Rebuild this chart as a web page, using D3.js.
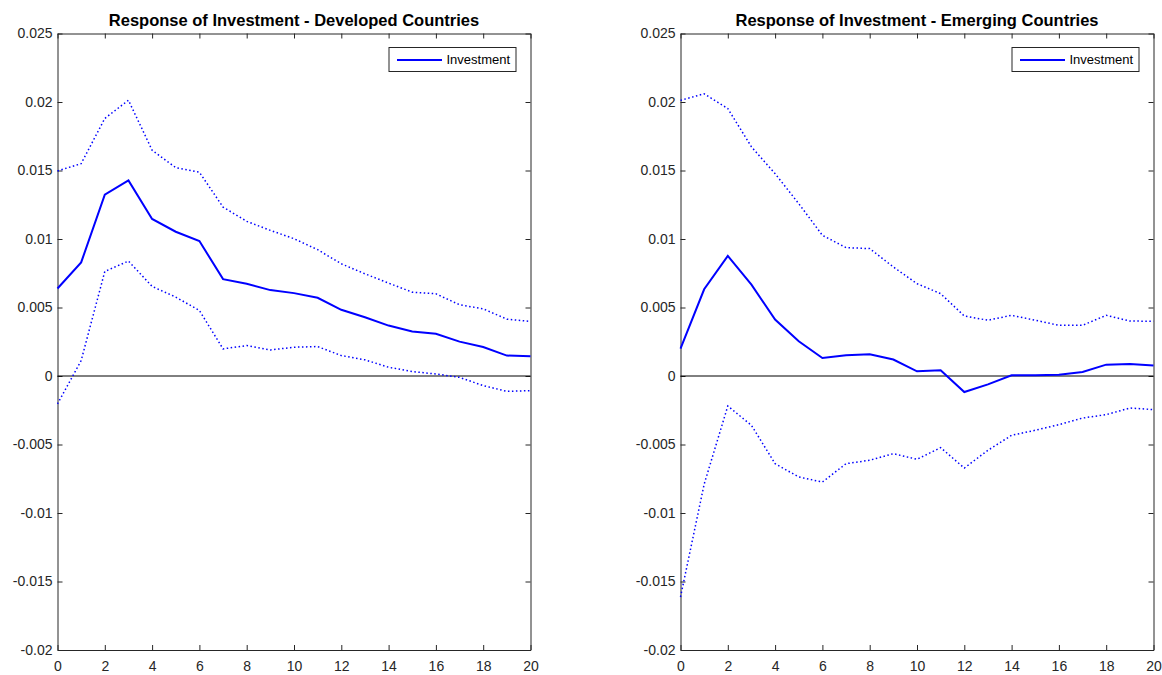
<!DOCTYPE html>
<html>
<head>
<meta charset="utf-8">
<script src="https://cdn.jsdelivr.net/npm/d3@7"></script>
<style>
  body { margin: 0; background: #fff; }
  svg { font-family: "Liberation Sans", Arial, Helvetica, sans-serif; }
  .axis path, .axis line { stroke: #262626; }
  .axis text { fill: #262626; font-size: 14px; }
</style>
</head>
<body>
<div id="chart"></div>
<script>
// horizon (quarters after shock)
const horizon = [0, 1, 2, 3, 4, 5, 6, 7, 8, 9, 10, 11, 12, 13, 14, 15, 16, 17, 18, 19, 20]
const xTicks = [0, 2, 4, 6, 8, 10, 12, 14, 16, 18, 20]
const yTicks = [-0.02, -0.015, -0.01, -0.005, 0, 0.005, 0.01, 0.015, 0.02, 0.025]

// developed countries
const devIrf = [0.00639, 0.00829, 0.01324, 0.01428, 0.01146, 0.01053, 0.00985, 0.00707, 0.00673, 0.00627, 0.00605,
  0.00571, 0.00483, 0.00429, 0.00368, 0.00325, 0.00308, 0.00251, 0.00212, 0.00149, 0.00144]
const devUpper = [0.01497, 0.0155, 0.0188, 0.02013, 0.01648, 0.01521, 0.01487, 0.01233, 0.01129, 0.01063, 0.01002,
  0.00922, 0.00819, 0.00746, 0.00678, 0.00612, 0.006, 0.0052, 0.0049, 0.00415, 0.00398]
const devLower = [-0.00204, 0.00113, 0.00763, 0.00839, 0.00654, 0.00576, 0.00478, 0.00198, 0.00222, 0.0019, 0.0021,
  0.00215, 0.00149, 0.00118, 0.00064, 0.00032, 0.00015, -0.0001, -0.0007, -0.00112, -0.00107]

// emerging countries
const emIrf = [0.002, 0.00633, 0.00876, 0.00667, 0.00412, 0.00253, 0.00131, 0.00151, 0.00158, 0.0012, 0.00034,
  0.00042, -0.00117, -0.00061, 0.00005, 0.00005, 0.0001, 0.00029, 0.00083, 0.00088, 0.00076]
const emUpper = [0.02012, 0.0206, 0.01952, 0.01673, 0.01477, 0.01258, 0.01027, 0.00937, 0.0093, 0.00796, 0.00674,
  0.00601, 0.00438, 0.00407, 0.00443, 0.00407, 0.0037, 0.0037, 0.00443, 0.00401, 0.004]
const emLower = [-0.01613, -0.0079, -0.00219, -0.0036, -0.0064, -0.00737, -0.00774, -0.0064, -0.00615, -0.00567, -0.00608,
  -0.00523, -0.00672, -0.00542, -0.00433, -0.00396, -0.00355, -0.00307, -0.00282, -0.00234, -0.00245]

const titles = ['Response of Investment - Developed Countries', 'Response of Investment - Emerging Countries']
const legendLabel = 'Investment'

const W = 1162, H = 675
const svg = d3.select('#chart').append('svg')
  .attr('width', W)
  .attr('height', H)

const panels = [
  { left: 57.5, title: titles[0], irf: devIrf, upper: devUpper, lower: devLower },
  { left: 680.5, title: titles[1], irf: emIrf, upper: emUpper, lower: emLower }
]
const plotW = 473, plotTop = 33.5, plotBottom = 650

panels.forEach(p => drawPanel(p))

function drawPanel(p) {
  let x = d3.scaleLinear().domain([0, 20]).range([p.left, p.left + plotW])
  let y = d3.scaleLinear().domain([-0.02, 0.025]).range([plotBottom, plotTop])
  let fmt = d => String(+d.toFixed(3))

  let g = svg.append('g')

  // axes, ticks pointing inward (box on)
  g.append('g').attr('class', 'axis')
    .attr('transform', `translate(0, ${plotBottom})`)
    .call(d3.axisBottom(x).tickValues(xTicks).tickSizeInner(-5).tickSizeOuter(0).tickPadding(11))
  g.append('g').attr('class', 'axis')
    .attr('transform', `translate(0, ${plotTop})`)
    .call(d3.axisTop(x).tickValues(xTicks).tickSizeInner(-5).tickSizeOuter(0).tickFormat(''))
  g.append('g').attr('class', 'axis')
    .attr('transform', `translate(${p.left}, 0)`)
    .call(d3.axisLeft(y).tickValues(yTicks).tickSizeInner(-5).tickSizeOuter(0).tickPadding(5).tickFormat(fmt))
  g.append('g').attr('class', 'axis')
    .attr('transform', `translate(${p.left + plotW}, 0)`)
    .call(d3.axisRight(y).tickValues(yTicks).tickSizeInner(-5).tickSizeOuter(0).tickFormat(''))
  g.selectAll('.axis').attr('font-family', null).attr('font-size', null)

  // zero line
  g.append('line')
    .attr('x1', x(0)).attr('x2', x(20))
    .attr('y1', y(0)).attr('y2', y(0))
    .attr('stroke', '#000')
    .attr('stroke-width', 1)

  let line = d3.line()
    .x((d, i) => x(horizon[i]))
    .y(d => y(d))

  g.append('path').datum(p.upper)
    .attr('d', line).attr('fill', 'none')
    .attr('stroke', '#0000ff').attr('stroke-width', 1.5)
    .attr('stroke-dasharray', '1.5,2.5')
  g.append('path').datum(p.lower)
    .attr('d', line).attr('fill', 'none')
    .attr('stroke', '#0000ff').attr('stroke-width', 1.5)
    .attr('stroke-dasharray', '1.5,2.5')
  g.append('path').datum(p.irf)
    .attr('d', line).attr('fill', 'none')
    .attr('stroke', '#0000ff').attr('stroke-width', 2)

  // title
  g.append('text')
    .attr('x', p.left + plotW / 2)
    .attr('y', 26)
    .attr('text-anchor', 'middle')
    .attr('font-weight', 'bold')
    .attr('font-size', 16.5)
    .attr('fill', '#000')
    .text(p.title)

  // legend
  let lx = p.left + plotW - 141.5, ly = 47.5
  g.append('rect')
    .attr('x', lx).attr('y', ly)
    .attr('width', 127).attr('height', 24)
    .attr('fill', '#fff').attr('stroke', '#262626').attr('stroke-width', 1)
  g.append('line')
    .attr('x1', lx + 8).attr('x2', lx + 53)
    .attr('y1', ly + 12.5).attr('y2', ly + 12.5)
    .attr('stroke', '#0000ff').attr('stroke-width', 2)
  g.append('text')
    .attr('x', lx + 57.5).attr('y', ly + 12)
    .attr('dy', '0.35em')
    .attr('font-size', 13)
    .attr('fill', '#000')
    .text(legendLabel)
}
</script>
</body>
</html>
